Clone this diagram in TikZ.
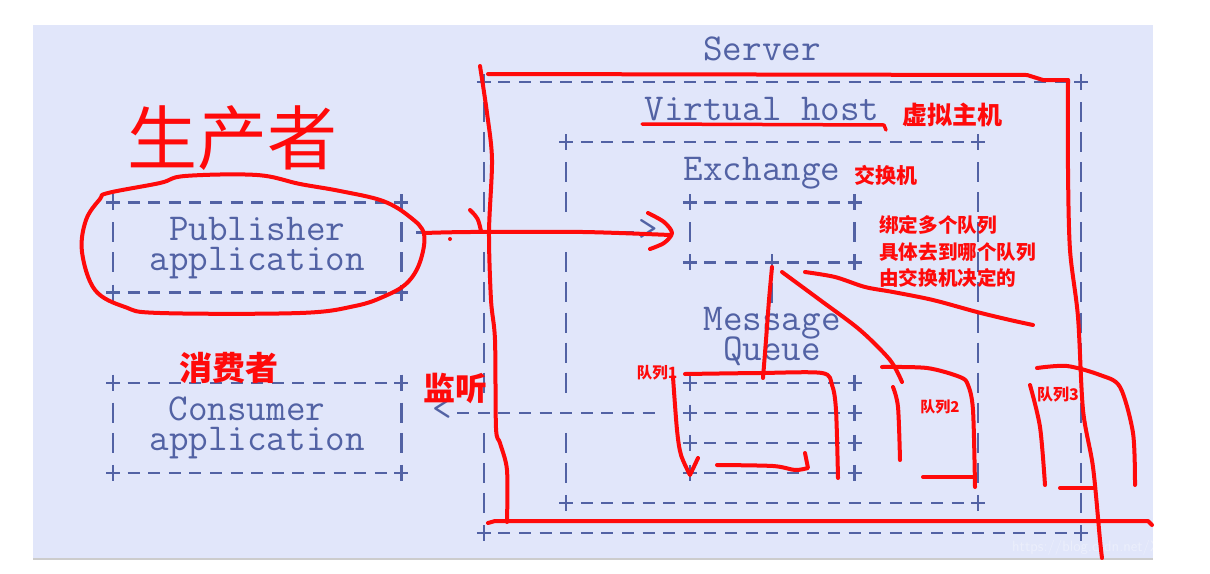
\documentclass[tikz,border=0pt]{standalone}
\usepackage{fontspec}
\newfontfamily\cjk{Noto Sans CJK SC}
\usetikzlibrary{positioning}
\definecolor{paper}{HTML}{E1E6FA}
\definecolor{ink}{HTML}{5262A4}
\definecolor{redpen}{HTML}{FF0A0A}
\begin{document}
\begin{tikzpicture}[x=1pt, y=-1pt,
  every node/.style={inner sep=0pt},
  mono/.style={font=\fontsize{38}{38}\selectfont\ttfamily, text=ink, anchor=base, text depth=0pt},
  hdash/.style={ink, line width=2.4pt, dash pattern=on 12pt off 8.6pt},
  vdash/.style={ink, line width=2.4pt, dash pattern=on 20pt off 10.06pt},
  scribble/.style={redpen, line width=4pt, line cap=round, line join=round},
  note/.style={text=redpen, font=\cjk\bfseries},
  asciiplus/.pic={\draw[ink, line width=2.4pt] (-7,0) -- (7,0) (0,-8) -- (0,8);}
]
  \useasboundingbox (0,0) rectangle (1210,573);
  \fill[white] (0,0) rectangle (1210,573);
  \fill[paper] (33,25) rectangle (1153,558);
  \draw[black!20, line width=2pt] (33,559) -- (1153,559);

  \node[mono] (server) at (762,60) {Server};
  \node[mono] (vhost) at (762,120.1) {Virtual host};
  \node[mono] (exchange) at (762,180.2) {Exchange};
  \node[mono] (mq1) at (772.2,330.5) {Message};
  \node[mono] (mq2) at (772.2,360.6) {Queue};
  \node[mono] (pub1) at (257.2,240.4) {Publisher};
  \node[mono] (pub2) at (257.2,270.4) {application};
  \node[mono] (con1) at (246.9,420.7) {Consumer};
  \node[mono] (con2) at (257.2,450.8) {application};
  \node[mono] (tohead) at (648.6,240.4) {>};
  \node[mono] (fromhead) at (442.6,420.7) {<};

  \draw[hdash] (498.4,82.1) -- (1066.6,82.1) (498.4,533) -- (1066.6,533);
  \draw[hdash] (580.8,142.2) -- (963.6,142.2) (580.8,502.9) -- (963.6,502.9);
  \draw[hdash] (704.4,202.3) -- (840,202.3) (704.4,262.4) -- (840,262.4);
  \draw[hdash] (704.4,382.7) -- (840,382.7) (704.4,412.7) -- (840,412.7)
               (704.4,442.8) -- (840,442.8) (704.4,472.8) -- (840,472.8);
  \draw[hdash] (127.6,202.3) -- (386.8,202.3) (127.6,292.5) -- (386.8,292.5)
               (127.6,382.7) -- (386.8,382.7) (127.6,472.8) -- (386.8,472.8);
  \draw[hdash] (416,232.4) -- (634,232.4);
  \draw[hdash] (457.2,412.7) -- (654.6,412.7);

  \draw[vdash] (483.8,102.1) -- (483.8,212.3) (483.8,252.4) -- (483.8,392.7)
               (483.8,432.8) -- (483.8,512.9) (1081.2,102.1) -- (1081.2,512.9);
  \draw[vdash] (566.2,162.2) -- (566.2,212.3) (566.2,252.4) -- (566.2,392.7)
               (566.2,432.8) -- (566.2,482.8) (978.2,162.2) -- (978.2,482.8);
  \draw[vdash] (689.8,222.4) -- (689.8,242.4) (854.6,222.4) -- (854.6,242.4)
               (772.2,282.5) -- (772.2,302.5);
  \draw[vdash] (113,222.4) -- (113,272.4) (401.4,222.4) -- (401.4,272.4)
               (113,402.7) -- (113,452.8) (401.4,402.7) -- (401.4,452.8);

  \foreach \x/\y in {113/202.3, 401.4/202.3, 113/292.5, 401.4/292.5,
                     113/382.7, 401.4/382.7, 113/472.8, 401.4/472.8,
                     483.8/82.1, 1081.2/82.1, 483.8/533, 1081.2/533,
                     566.2/142.2, 978.2/142.2, 566.2/502.9, 978.2/502.9,
                     689.8/202.3, 854.6/202.3, 689.8/262.4, 772.2/262.4, 854.6/262.4,
                     689.8/382.7, 854.6/382.7, 689.8/412.7, 854.6/412.7,
                     689.8/442.8, 854.6/442.8, 689.8/472.8, 854.6/472.8}
    \pic at (\x,\y) {asciiplus};

  \begin{scope}
    \clip (33,25) rectangle (1153,558);
    \node[text=white, opacity=0.35, font=\sffamily\fontsize{15}{15}\selectfont, anchor=west]
      (mark) at (1012,548) {https://blog.csdn.net/XU9};
  \end{scope}

  \node[text=redpen, font=\cjk\fontsize{70}{70}\selectfont] (producer) at (232,138) {生产者};
  \node[note, font=\cjk\bfseries\fontsize{25}{25}\selectfont] (vhostcn) at (952,115) {虚拟主机};
  \node[note, font=\cjk\bfseries\fontsize{21}{21}\selectfont] (exchangecn) at (886,175) {交换机};
  \node[note, font=\cjk\bfseries\fontsize{19.6}{26.5}\selectfont, align=left, anchor=west]
    (bindnote) at (879,251.5) {绑定多个队列\\具体去到哪个队列\\由交换机决定的};
  \node[note, font=\cjk\bfseries\fontsize{33}{33}\selectfont] (consumercn) at (229,368) {消费者};
  \node[note, font=\cjk\bfseries\fontsize{32}{32}\selectfont] (listencn) at (455,388) {监听};
  \node[note, font=\cjk\bfseries\fontsize{15.5}{15.5}\selectfont] (q1) at (657,373) {队列1};
  \node[note, font=\cjk\bfseries\fontsize{15}{15}\selectfont] (q2) at (940,407) {队列2};
  \node[note, font=\cjk\bfseries\fontsize{16}{16}\selectfont] (q3) at (1058,395) {队列3};

  \coordinate (exbot) at (772,267);

  \draw[scribble] plot[smooth cycle, tension=0.6] coordinates {(108,193) (160,183) (185,176)
    (257,175) (300,184) (340,191) (383,201) (410,217) (424,234) (420,262) (407,283)
    (385,296) (355,306) (300,313) (160,313) (125,307) (95,290) (82,252) (86,220) (100,199)};
  \draw[scribble] plot[smooth] coordinates {(424,233) (470,232) (583,232) (670,235)};
  \draw[scribble] plot[smooth] coordinates {(648,213) (664,222) (672,233) (664,243) (650,249)};
  \draw[scribble] (470,210) .. controls (478,218) .. (481,231);
  \fill[redpen] (450,239) circle (2);

  \draw[scribble] plot[smooth] coordinates {(480,66) (487,113) (492,160) (489,232) (491,300)
    (495,340) (496,428) (500,443) (507,470) (507,522)};
  \draw[scribble] (488,74) -- (1027,75) -- (1043,80) -- (1068,80);
  \draw[scribble] plot[smooth] coordinates {(1068,80) (1068,170) (1070,250) (1078,317)
    (1083,410) (1093,467) (1100,540) (1102,558)};
  \draw[scribble] (488,523) -- (495,521) -- (1148,521) -- (1152,525);
  \draw[scribble, line width=3.5pt] (642,124) -- (884,125) -- (886,130);

  \draw[scribble] plot[smooth] coordinates {(exbot) (769,300) (766,340) (763,378)};
  \draw[scribble] plot[smooth] coordinates {(782,272) (820,300) (860,330) (890,360) (902,382)};
  \draw[scribble] plot[smooth] coordinates {(805,272) (835,277) (865,287) (893,292)
    (933,300) (977,312) (1010,320) (1033,325)};

  \draw[scribble] plot[smooth] coordinates {(685,374) (760,373) (822,373) (832,385) (836,410) (838,478)};
  \draw[scribble] plot[smooth] coordinates {(673,377) (677,430) (681,455) (690,475)} -- (698,458);
  \draw[scribble] plot[smooth] coordinates {(717,465) (773,466) (795,470) (808,468)} -- (805,453);

  \draw[scribble] plot[smooth] coordinates {(882,367) (927,368) (960,377) (968,385) (973,410) (975,487)};
  \draw[scribble] plot[smooth] coordinates {(893,387) (898,407) (900,460)};
  \draw[scribble] (923,477) -- (975,477);

  \draw[scribble] plot[smooth] coordinates {(1037,368) (1067,366) (1100,375) (1120,387) (1133,433) (1135,485)};
  \draw[scribble] plot[smooth] coordinates {(1030,385) (1040,427) (1045,485)};
  \draw[scribble] (1060,488) -- (1093,488);
\end{tikzpicture}
\end{document}
